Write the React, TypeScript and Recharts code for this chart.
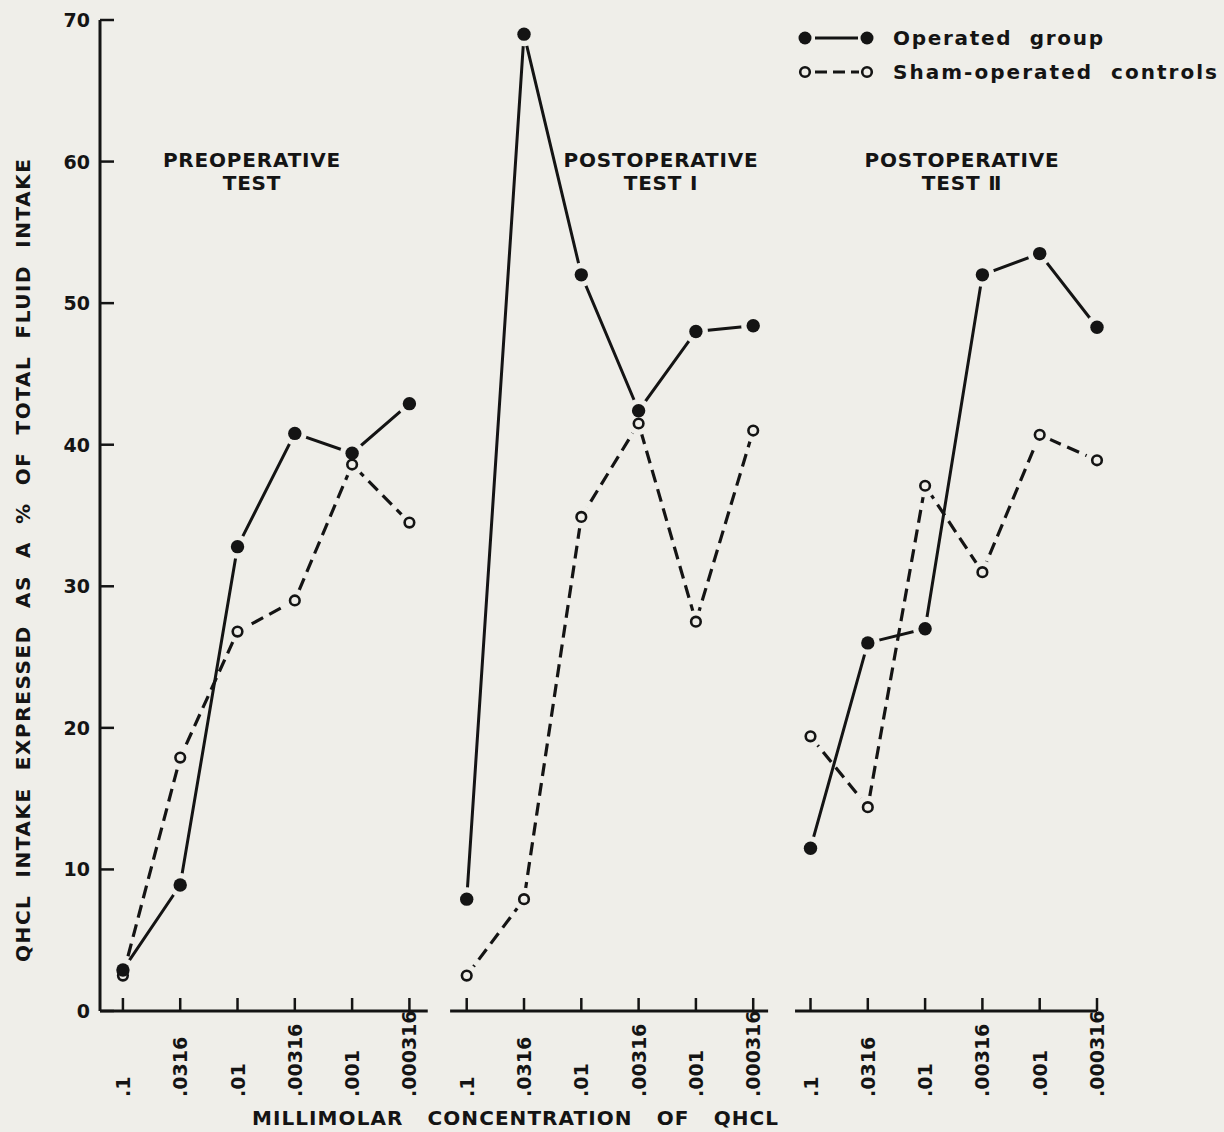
import React from 'react';
import { LineChart, Line, XAxis, YAxis, ReferenceLine, Legend, Customized } from 'recharts';

const concentrations = ['.1', '.0316', '.01', '.00316', '.001', '.000316'];
const panelTitles = [
  ['PREOPERATIVE', 'TEST'],
  ['POSTOPERATIVE', 'TEST Ⅰ'],
  ['POSTOPERATIVE', 'TEST Ⅱ'],
];
const legendNames = ['Operated  group', 'Sham-operated  controls'];

const operatedPre = [2.9, 8.9, 32.8, 40.8, 39.4, 42.9];
const shamPre = [2.5, 17.9, 26.8, 29.0, 38.6, 34.5];
const operatedPost1 = [7.9, 69.0, 52.0, 42.4, 48.0, 48.4];
const shamPost1 = [2.5, 7.9, 34.9, 41.5, 27.5, 41.0];
const operatedPost2 = [11.5, 26.0, 27.0, 52.0, 53.5, 48.3];
const shamPost2 = [19.4, 14.4, 37.1, 31.0, 40.7, 38.9];

const yTicks = [0, 10, 20, 30, 40, 50, 60, 70];
const xTicks = Array.from({ length: 18 }, (_, i) => i);
const axisSegments = [
  [-0.4, 5.32],
  [5.71, 11.26],
  [11.73, 17.0],
];

const operatedByPanel = [operatedPre, operatedPost1, operatedPost2];
const shamByPanel = [shamPre, shamPost1, shamPost2];

const data: any[] = [];
operatedByPanel.forEach((ops, p) => {
  ops.forEach((v, i) => {
    const s = shamByPanel[p][i];
    const row: any = {
      x: p * 6 + i,
      label: concentrations[i],
      op: v,
      sham: s,
      opHalo: v,
      shamHalo: s,
    };
    row['op' + p] = v;
    row['sham' + p] = s;
    data.push(row);
  });
});

const BG = '#efeee9';
const INK = '#141414';
const FONT = '"DejaVu Sans", sans-serif';

const XTick = (props: any) => {
  const { x, y, payload } = props;
  const label = concentrations[payload.value % 6];
  return (
    <g>
      <line x1={x} y1={y} x2={x} y2={y - 13} stroke={INK} strokeWidth={2.5} />
      <text
        transform={`translate(${x},${y + 86}) rotate(-90)`}
        textAnchor="start"
        dominantBaseline="central"
        fontFamily={FONT}
        fontWeight="bold"
        fontSize={19}
        fill={INK}
      >
        {label}
      </text>
    </g>
  );
};

const YTick = (props: any) => {
  const { x, y, payload } = props;
  return (
    <g>
      <line x1={x} y1={y} x2={x + 14} y2={y} stroke={INK} strokeWidth={2.5} />
      <text
        x={x - 10}
        y={y}
        textAnchor="end"
        dominantBaseline="central"
        fontFamily={FONT}
        fontWeight="bold"
        fontSize={19}
        fill={INK}
      >
        {payload.value}
      </text>
    </g>
  );
};

const haloDot = (r: number) => (props: any) => {
  const { cx, cy, index } = props;
  if (cx == null || cy == null) return <g key={index} />;
  return <circle key={index} cx={cx} cy={cy} r={r} fill={BG} stroke="none" />;
};

const filledDot = (props: any) => {
  const { cx, cy, index } = props;
  if (cx == null || cy == null) return <g key={index} />;
  return <circle key={index} cx={cx} cy={cy} r={6.7} fill={INK} stroke="none" />;
};

const openDot = (props: any) => {
  const { cx, cy, index } = props;
  if (cx == null || cy == null) return <g key={index} />;
  return <circle key={index} cx={cx} cy={cy} r={4.8} fill={BG} stroke={INK} strokeWidth={2.6} />;
};

const LegendContent = () => (
  <svg width={444} height={80} style={{ display: 'block' }}>
    <circle cx={25} cy={23} r={6.5} fill={INK} />
    <line x1={35} y1={23} x2={78} y2={23} stroke={INK} strokeWidth={3} />
    <circle cx={87} cy={23} r={6.5} fill={INK} />
    <text
      x={113}
      y={23}
      dominantBaseline="central"
      fontFamily={FONT}
      fontWeight="bold"
      fontSize={20}
      fill={INK}
      textLength={210}
      style={{ whiteSpace: 'pre' }}
    >
      {legendNames[0]}
    </text>
    <circle cx={25} cy={57} r={4.8} fill="none" stroke={INK} strokeWidth={2.6} />
    <line x1={35} y1={57} x2={79} y2={57} stroke={INK} strokeWidth={3} strokeDasharray="12 6" />
    <circle cx={87} cy={57} r={4.8} fill="none" stroke={INK} strokeWidth={2.6} />
    <text
      x={113}
      y={57}
      dominantBaseline="central"
      fontFamily={FONT}
      fontWeight="bold"
      fontSize={20}
      fill={INK}
      textLength={324}
      style={{ whiteSpace: 'pre' }}
    >
      {legendNames[1]}
    </text>
  </svg>
);

const titleCenters = [252, 661, 962];

const Titles = () => (
  <g>
    {panelTitles.map((t, i) => (
      <g key={i}>
        <text
          x={titleCenters[i]}
          y={167}
          textAnchor="middle"
          fontFamily={FONT}
          fontWeight="bold"
          fontSize={20}
          letterSpacing={0.8}
          fill={INK}
        >
          {t[0]}
        </text>
        <text
          x={titleCenters[i]}
          y={190}
          textAnchor="middle"
          fontFamily={FONT}
          fontWeight="bold"
          fontSize={20}
          letterSpacing={0.8}
          fill={INK}
        >
          {t[1]}
        </text>
      </g>
    ))}
    <text
      transform="translate(23,561) rotate(-90)"
      x={-401}
      y={0}
      textAnchor="start"
      dominantBaseline="central"
      fontFamily={FONT}
      fontWeight="bold"
      fontSize={20}
      fill={INK}
      textLength={803}
      style={{ whiteSpace: 'pre' }}
    >
      {'QHCL  INTAKE  EXPRESSED  AS  A  %  OF  TOTAL  FLUID  INTAKE'}
    </text>
    <text
      x={252}
      y={1118}
      dominantBaseline="central"
      fontFamily={FONT}
      fontWeight="bold"
      fontSize={20}
      fill={INK}
      textLength={526}
      style={{ whiteSpace: 'pre' }}
    >
      {'MILLIMOLAR   CONCENTRATION   OF   QHCL'}
    </text>
  </g>
);

export default function App() {
  return (
    <div style={{ position: 'absolute', left: 0, top: 0, width: 1224, height: 1132, background: BG, overflow: 'hidden' }}>
      <LineChart width={1224} height={1132} data={data} margin={{ top: 20, right: 127, bottom: 31, left: 40 }}>
        <XAxis
          dataKey="x"
          type="number"
          domain={[-0.4, 17]}
          ticks={xTicks}
          interval={0}
          axisLine={false}
          tickLine={false}
          tickSize={0}
          tickMargin={0}
          height={90}
          tick={<XTick />}
        />
        <YAxis
          type="number"
          domain={[0, 70]}
          ticks={yTicks}
          interval={0}
          width={60}
          axisLine={{ stroke: INK, strokeWidth: 3 }}
          tickLine={false}
          tickSize={0}
          tickMargin={0}
          tick={<YTick />}
        />
        {axisSegments.map((s, i) => (
          <ReferenceLine
            key={i}
            segment={[{ x: s[0], y: 0 }, { x: s[1], y: 0 }]}
            stroke={INK}
            strokeWidth={3}
            ifOverflow="visible"
          />
        ))}
        {[0, 1, 2].map((p) => (
          <Line
            key={'s' + p}
            dataKey={'sham' + p}
            stroke={INK}
            strokeWidth={3.2}
            strokeDasharray="13 7"
            dot={false}
            activeDot={false}
            type="linear"
            isAnimationActive={false}
          />
        ))}
        {[0, 1, 2].map((p) => (
          <Line
            key={'o' + p}
            dataKey={'op' + p}
            stroke={INK}
            strokeWidth={3}
            dot={false}
            activeDot={false}
            type="linear"
            isAnimationActive={false}
          />
        ))}
        <Line dataKey="shamHalo" stroke="none" strokeWidth={0} dot={haloDot(11.5)} activeDot={false} isAnimationActive={false} legendType="none" />
        <Line dataKey="opHalo" stroke="none" strokeWidth={0} dot={haloDot(12)} activeDot={false} isAnimationActive={false} legendType="none" />
        <Line dataKey="sham" stroke="none" strokeWidth={0} dot={openDot} activeDot={false} isAnimationActive={false} legendType="none" />
        <Line dataKey="op" stroke="none" strokeWidth={0} dot={filledDot} activeDot={false} isAnimationActive={false} legendType="none" />
        <Customized component={<Titles />} />
        <Legend
          layout="horizontal"
          verticalAlign="middle"
          align="center"
          wrapperStyle={{ left: 780, top: 15, width: 444, height: 80 }}
          content={<LegendContent />}
        />
      </LineChart>
    </div>
  );
}
